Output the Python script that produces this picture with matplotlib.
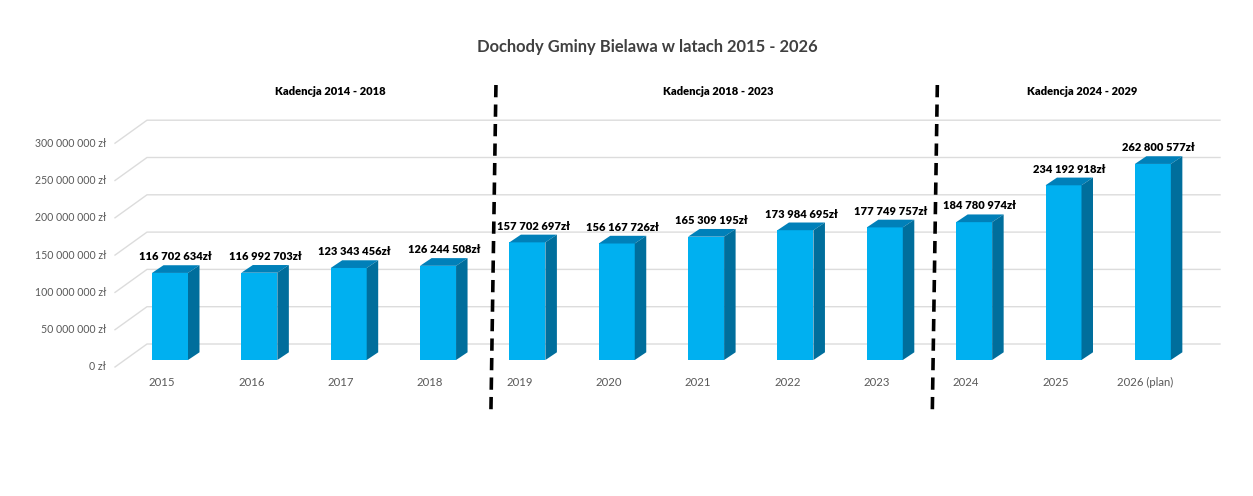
import numpy as np
import matplotlib.pyplot as plt
from matplotlib.patches import Polygon

# === Data ===
years = ["2015", "2016", "2017", "2018", "2019", "2020", "2021",
         "2022", "2023", "2024", "2025", "2026 (plan)"]
income = [116702634, 116992703, 123343456, 126244508, 157702697, 156167726,
          165309195, 173984695, 177749757, 184780974, 234192918, 262800577]
value_labels = ["116 702 634zł", "116 992 703zł", "123 343 456zł", "126 244 508zł",
                "157 702 697zł", "156 167 726zł", "165 309 195zł", "173 984 695zł",
                "177 749 757zł", "184 780 974zł", "234 192 918zł", "262 800 577zł"]
y_ticks = [0, 50e6, 100e6, 150e6, 200e6, 250e6, 300e6]
y_tick_labels = ["0 zł", "50 000 000 zł", "100 000 000 zł", "150 000 000 zł",
                 "200 000 000 zł", "250 000 000 zł", "300 000 000 zł"]
terms = ["Kadencja 2014 - 2018", "Kadencja 2018 - 2023", "Kadencja 2024 - 2029"]
term_centers = [1.79, 6.14, 10.21]   # x position (category units)
dividers = [3.62, 8.56]

title = "Dochody Gminy Bielawa w latach 2015 - 2026"

# === Colours ===
c_front = "#00b0f0"
c_top = "#0080b9"
c_side = "#006e9c"
c_grid = "#dcdcdc"
c_text = "#595959"

plt.rcParams['font.family'] = ['Lato', 'DejaVu Sans']

W, H, DPI = 1253, 496, 100
fig = plt.figure(figsize=(W / DPI, H / DPI), dpi=DPI)
ax = fig.add_axes([0, 0, 1, 1])

# scales: 89.35 px per category, 37.3 px per 50 mln
px_cat = 89.35
px_val = 37.3 / 50e6
x0_px, y0_px = 170, 360
xmin, xmax = -x0_px / px_cat, (W - x0_px) / px_cat
ymin, ymax = -(H - y0_px) / px_val, y0_px / px_val
ax.set_xlim(xmin, xmax)
ax.set_ylim(ymin, ymax)
ax.axis('off')

PX = (xmax - xmin) / W   # one pixel in x data units
PY = (ymax - ymin) / H   # one pixel in y data units

# === 3D-ish walls / gridlines ===
left_front = (115 - x0_px) * PX
left_back = (147 - x0_px) * PX
right_back = (1220 - x0_px) * PX
for v, lab in zip(y_ticks, y_tick_labels):
    yf = v - 7 * PY
    yb = v + 16 * PY
    ax.plot([left_front, left_back, right_back], [yf, yb, yb], color=c_grid, lw=1.0, zorder=1)
    ax.text(left_front - 9 * PX, yf, lab, ha='right', va='center', fontsize=7.6, color=c_text)

# === Bars ===
x = np.arange(len(years))
bw = 36 * PX
dx, dy = 11.5 * PX, 7.7 * PY
ax.bar(x, income, width=bw, color=c_front, zorder=3, linewidth=0)
for xi, v, lab, yr in zip(x, income, value_labels, years):
    l, r = xi - bw / 2, xi + bw / 2
    top = Polygon([(l, v), (r, v), (r + dx, v + dy), (l + dx, v + dy)],
                  closed=True, facecolor=c_top, edgecolor='none', zorder=3)
    side = Polygon([(r, 0), (r + dx, dy), (r + dx, v + dy), (r, v)],
                   closed=True, facecolor=c_side, edgecolor='none', zorder=3)
    ax.add_patch(top)
    ax.add_patch(side)
    ax.text(xi + dx / 2, v + dy + 3 * PY, lab, ha='center', va='bottom',
            fontsize=8, fontweight='heavy', color='black', zorder=5)
    ax.text(xi - 8 * PX, -22 * PY, yr, ha='center', va='center', fontsize=8.2, color=c_text)

# === Term dividers ===
for d in dividers:
    ax.plot([d + 2.5 * PX, d - 2.5 * PX], [(y0_px - 85) * PY, (y0_px - 410) * PY],
            color='black', lw=2.6, dashes=(3.4, 2.0), solid_capstyle='butt', zorder=6)

for t, c in zip(terms, term_centers):
    ax.text(c, (y0_px - 91) * PY, t, ha='center', va='center', fontsize=8,
            fontweight='heavy', color='black')

ax.text((647 - x0_px) * PX, (y0_px - 47) * PY, title, ha='center', va='center',
        fontsize=11.9, fontweight='bold', color='#404040')

fig.savefig("out.png", dpi=DPI)
